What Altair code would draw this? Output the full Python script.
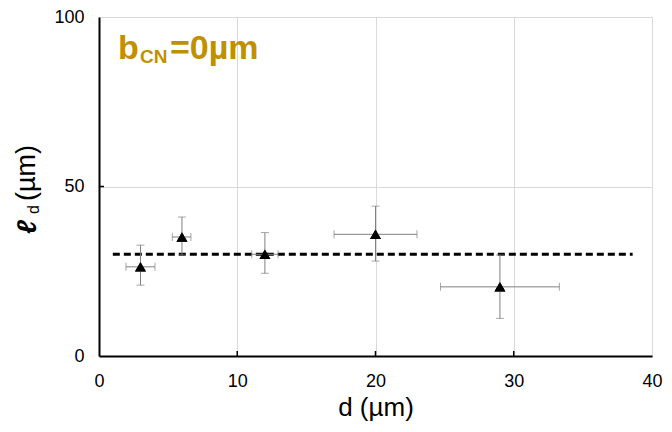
import altair as alt
import pandas as pd

d = [3.0, 6.0, 12.0, 20.0, 29.0]
d_lo = [1.95, 5.3, 11.05, 17.0, 24.7]
d_hi = [4.05, 6.65, 12.95, 23.0, 33.3]
ld = [26.3, 35.1, 30.0, 35.9, 20.4]
ld_lo = [20.9, 29.8, 24.4, 28.0, 11.1]
ld_hi = [32.7, 41.0, 36.4, 44.2, 29.8]

fit_x = [1.0, 38.6]
fit_y = [30.0, 30.0]

x_ticks = [0, 10, 20, 30, 40]
y_ticks = [0, 50, 100]

FONT = "Liberation Sans"
GOLD = "#BF9000"
W, H = 553, 339

df = pd.DataFrame({"d": d, "d_lo": d_lo, "d_hi": d_hi,
                   "ld": ld, "ld_lo": ld_lo, "ld_hi": ld_hi})
fit = pd.DataFrame({"x": fit_x, "y": fit_y})

xs = alt.Scale(domain=[0, 40], nice=False)
ys = alt.Scale(domain=[0, 100], nice=False)

base = alt.Chart(df)

pts = base.mark_point(shape="triangle-up", filled=True, color="black",
                      opacity=1, size=120).encode(
    x=alt.X("d:Q", scale=xs,
            axis=alt.Axis(values=x_ticks, title="d (µm)", titleFontSize=26,
                          titleFont=FONT, titleFontWeight="normal",
                          titlePadding=4, labelFontSize=18, labelFont=FONT,
                          labelPadding=16, labelFlush=False, tickSize=0,
                          domainColor="black", domainWidth=2,
                          gridColor="#D9D9D9", labelColor="black",
                          titleColor="black")),
    y=alt.Y("ld:Q", scale=ys,
            axis=alt.Axis(values=y_ticks, title=None, labelFontSize=18,
                          labelFont=FONT, labelPadding=15, labelFlush=False,
                          tickSize=0, domainColor="black", domainWidth=2,
                          gridColor="#D9D9D9", labelColor="black")),
)

vbar = base.mark_rule(color="#808080", strokeWidth=1).encode(
    x="d:Q", y="ld_lo:Q", y2="ld_hi:Q")
hbar = base.mark_rule(color="#808080", strokeWidth=1).encode(
    y="ld:Q", x="d_lo:Q", x2="d_hi:Q")
cap_lo = base.mark_tick(color="#808080", orient="horizontal", size=8,
                        thickness=1).encode(x="d:Q", y="ld_lo:Q")
cap_hi = base.mark_tick(color="#808080", orient="horizontal", size=8,
                        thickness=1).encode(x="d:Q", y="ld_hi:Q")
cap_l = base.mark_tick(color="#808080", orient="vertical", size=8,
                       thickness=1).encode(x="d_lo:Q", y="ld:Q")
cap_r = base.mark_tick(color="#808080", orient="vertical", size=8,
                       thickness=1).encode(x="d_hi:Q", y="ld:Q")

line = alt.Chart(fit).mark_line(color="black", strokeWidth=3,
                                strokeDash=[7, 4]).encode(x="x:Q", y="y:Q")

# inward tick marks
xt = alt.Chart(pd.DataFrame({"t": x_ticks[1:-1]})).mark_rule(
    color="black", strokeWidth=1.5).encode(
    x="t:Q", y=alt.value(H), y2=alt.value(H - 5))
yt = alt.Chart(pd.DataFrame({"t": [50]})).mark_rule(
    color="black", strokeWidth=1.5).encode(
    y="t:Q", x=alt.value(0), x2=alt.value(5))

# panel label b_CN=0µm
lab_b = alt.Chart(pd.DataFrame({"s": ["b"]})).mark_text(
    font=FONT, fontSize=34, fontWeight="bold", color=GOLD, align="left",
    baseline="alphabetic").encode(text="s:N", x=alt.value(19), y=alt.value(42))
lab_cn = alt.Chart(pd.DataFrame({"s": ["CN"]})).mark_text(
    font=FONT, fontSize=19, fontWeight="bold", color=GOLD, align="left",
    baseline="alphabetic").encode(text="s:N", x=alt.value(41), y=alt.value(46))
lab_rest = alt.Chart(pd.DataFrame({"s": ["=0µm"]})).mark_text(
    font=FONT, fontSize=34, fontWeight="bold", color=GOLD, align="left",
    baseline="alphabetic").encode(text="s:N", x=alt.value(71), y=alt.value(42))

# y axis title ℓ_d (µm), rotated
yl_l = alt.Chart(pd.DataFrame({"s": ["ℓ"]})).mark_text(
    font=FONT, fontSize=27, fontWeight="bold", fontStyle="italic",
    color="black", align="left", baseline="alphabetic", angle=270).encode(
    text="s:N", x=alt.value(-63), y=alt.value(217))
yl_d = alt.Chart(pd.DataFrame({"s": ["d"]})).mark_text(
    font=FONT, fontSize=16, color="black", align="left",
    baseline="alphabetic", angle=270).encode(
    text="s:N", x=alt.value(-60), y=alt.value(197))
yl_u = alt.Chart(pd.DataFrame({"s": ["(µm)"]})).mark_text(
    font=FONT, fontSize=27, color="black", align="left",
    baseline="alphabetic", angle=270).encode(
    text="s:N", x=alt.value(-64), y=alt.value(184))

chart = alt.layer(
    pts, line, vbar, hbar, cap_lo, cap_hi, cap_l, cap_r, pts, xt, yt,
    lab_b, lab_cn, lab_rest, yl_l, yl_d, yl_u
).properties(
    width=W, height=H,
    autosize=alt.AutoSizeParams(type="none"),
    padding={"left": 91, "top": 9, "right": 12, "bottom": 70},
).configure_view(
    stroke="black", strokeWidth=2
).configure(background="white")

chart.save("out.html", embed_options={"renderer": "svg", "actions": False})
